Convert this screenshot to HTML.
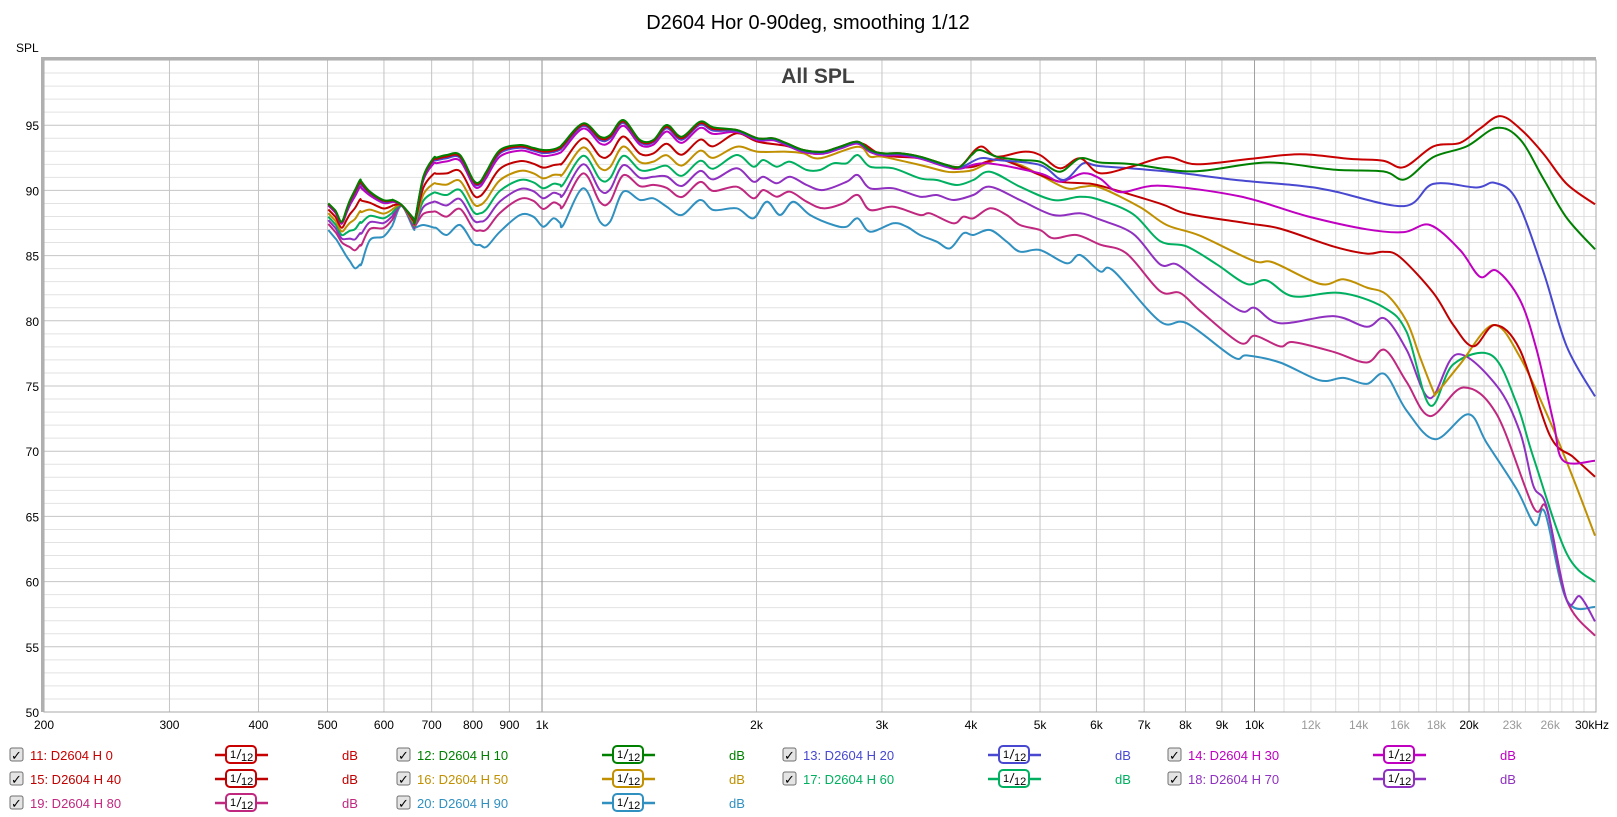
<!DOCTYPE html>
<html><head><meta charset="utf-8"><style>
html,body{margin:0;padding:0;background:#fff;}
body{width:1617px;height:817px;overflow:hidden;position:relative;font-family:"Liberation Sans",sans-serif;}
svg{position:absolute;left:0;top:0;}
</style></head><body>
<svg id="s" width="1617" height="817" xmlns="http://www.w3.org/2000/svg" font-family="Liberation Sans, sans-serif"></svg>
<script>
const S=document.getElementById('s');
let h='';
const L=44,R=1596,T=60,B=712;
const xf=f=>44+712.5*Math.log10(f/200);
const yd=d=>712-(d-50)*13.04;
// grid
for(let d=50;d<=100;d++){const y=yd(d);h+=`<line x1="${L}" x2="${R}" y1="${y}" y2="${y}" stroke="${d%5==0?'#c4c4c4':'#e2e2e2'}" stroke-width="1"/>`;}
let fs=[];for(let f=300;f<=900;f+=100)fs.push([f,'#c4c4c4']);fs.push([1000,'#909090']);
for(let f=2000;f<=9000;f+=1000)fs.push([f,'#c4c4c4']);fs.push([10000,'#a0a0a0']);
for(let f=11000;f<=29000;f+=1000)fs.push([f,f==20000?'#b0b0b0':'#dcdcdc']);
for(const[f,c] of fs){const x=xf(f);h+=`<line x1="${x}" x2="${x}" y1="${T}" y2="${B}" stroke="${c}"/>`;}
// border
h+=`<rect x="${L}" y="${T}" width="${R-L}" height="${B-T}" fill="none" stroke="#a8a8a8" stroke-width="1"/>`;
h+=`<line x1="${L-1.5}" y1="${T-2}" x2="${L-1.5}" y2="${B}" stroke="#b0b0b0" stroke-width="3"/>`;
h+=`<line x1="${L-3}" y1="${T-1.5}" x2="${R}" y2="${T-1.5}" stroke="#b0b0b0" stroke-width="3"/>`;
// labels
h+=`<text x="808" y="29" font-size="20" text-anchor="middle" fill="#000">D2604 Hor 0-90deg, smoothing 1/12</text>`;
h+=`<text x="818" y="83" font-size="21" font-weight="bold" text-anchor="middle" fill="#404040">All SPL</text>`;
h+=`<text x="16" y="52" font-size="12" fill="#000">SPL</text>`;
for(let d=50;d<=95;d+=5)h+=`<text x="39" y="${yd(d)+5}" font-size="12" text-anchor="end" fill="#000">${d}</text>`;
const xl=[[200,'200'],[300,'300'],[400,'400'],[500,'500'],[600,'600'],[700,'700'],[800,'800'],[900,'900'],[1000,'1k'],[2000,'2k'],[3000,'3k'],[4000,'4k'],[5000,'5k'],[6000,'6k'],[7000,'7k'],[8000,'8k'],[9000,'9k'],[10000,'10k'],[12000,'12k',1],[14000,'14k',1],[16000,'16k',1],[18000,'18k',1],[20000,'20k'],[23000,'23k',1],[26000,'26k',1]];
for(const[f,t,g] of xl)h+=`<text x="${xf(f)}" y="729" font-size="12" text-anchor="middle" fill="${g?'#999':'#000'}">${t}</text>`;
h+=`<text x="1575" y="729" font-size="12" fill="#000">30kHz</text>`;
// data
const z7=p=>[320+p[0]/3,100+p[1]/3], z8=p=>[720+p[0]/3,100+p[1]/3], z9=p=>[1100+p[0]/3,100+p[1]/2.8];
const T7=[[25,310],[45,330],[65,365],[90,300],[120,240],[150,275],[190,300],[220,300],[245,315],[285,360],[310,230],[340,175],[380,165],[420,165],[460,240],[480,245],[540,150],[600,135],[670,150],[700,148],[720,140],[790,70],[840,110],[870,105],[910,60],[960,120],[1000,120],[1040,75],[1085,110],[1140,65],[1180,82]].map(z7);
const B7=[[25,390],[50,420],[80,470],[105,505],[125,490],[150,420],[190,410],[215,380],[245,318],[280,385],[310,375],[350,385],[380,405],[420,375],[460,430],[500,440],[540,395],[600,345],[640,350],[670,380],[700,355],[730,375],[790,265],[840,365],[870,365],[910,275],[960,300],[1000,295],[1040,320],[1085,345],[1140,300],[1180,330]].map(z7);
function interp(a,x){if(x<=a[0][0])return a[0][1];for(let i=1;i<a.length;i++){if(x<=a[i][0]){const t=(x-a[i-1][0])/(a[i][0]-a[i-1][0]);return a[i-1][1]+t*(a[i][1]-a[i-1][1]);}}return a[a.length-1][1];}
const xs=[...new Set(T7.map(p=>p[0]).concat(B7.map(p=>p[0])))].sort((a,b)=>a-b);
function blend(w){return xs.map(x=>[x,interp(T7,x)*(1-w)+interp(B7,x)*w]);}
const T8=[[50,90],[113,115],[160,115],[200,130],[250,150],[310,155],[360,140],[413,125],[450,150],[487,160],[540,160],[600,170],[680,195],[720,200]];
const off=(a,o)=>a.map(p=>[p[0],p[1]+o]);
const C={
H0:{c:'#c80000',w:0.02,a8:T8.concat([[780,140],[830,170],[910,155],[960,165],[1020,205],[1080,175]]),
a9:[[0,205],[100,185],[200,160],[290,180],[450,165],[600,152],[750,165],[850,170],[912,188],[1000,130],[1080,120],[1140,80],[1200,45],[1260,80],[1330,150],[1400,235],[1485,292]]},
H10:{c:'#008000',w:0,a8:T8.concat([[755,165],[780,150],[830,170],[900,180],[960,185],[1020,215],[1080,175]]),
a9:[[0,175],[100,180],[280,200],[500,175],[700,195],[850,200],[915,222],[1000,160],[1100,130],[1190,78],[1260,110],[1330,220],[1400,330],[1485,418]]},
H20:{c:'#4848d0',w:0.04,a8:off(T8,3).concat([[780,175],[830,180],[960,195],[1030,240],[1090,190]]),
a9:[[0,185],[200,200],[420,225],[600,240],[700,255],[912,297],[1000,235],[1130,245],[1185,232],[1250,280],[1330,480],[1400,690],[1485,830]]},
H30:{c:'#c000c0',w:0.08,a8:off(T8,6).concat([[800,190],[960,220],[1020,245],[1090,220]]),
a9:[[0,220],[60,258],[180,240],[420,270],[620,325],[800,362],[912,370],[990,350],[1080,420],[1140,495],[1190,478],[1260,560],[1310,700],[1360,900],[1390,1010],[1485,1010]]},
H40:{c:'#c00000',w:0.23,a8:[[50,100],[113,125],[200,138],[250,155],[310,160],[413,128],[487,165],[600,175],[700,200],[760,200],[800,185],[850,180],[960,225],[1020,245],[1090,250]],
a9:[[0,240],[180,290],[260,318],[440,345],[540,360],[700,410],[800,430],[850,425],[900,440],[1000,540],[1060,630],[1120,690],[1185,630],[1260,700],[1350,940],[1420,1000],[1485,1055]]},
H50:{c:'#c09000',w:0.37,a8:[[50,140],[113,155],[200,155],[250,160],[300,175],[413,140],[450,170],[487,170],[600,195],[680,215],[720,215],[760,210],[830,180],[900,195],[960,225],[1040,265],[1090,260]],
a9:[[0,245],[120,300],[200,350],[300,380],[460,450],[520,455],[660,515],[730,502],[800,525],[860,545],[920,620],[960,720],[1000,815],[1010,820],[1080,740],[1180,630],[1260,720],[1350,900],[1420,1060],[1485,1220]]},
H60:{c:'#00b060',w:0.5,a8:[[50,165],[100,200],[130,180],[170,200],[210,185],[260,210],[300,210],[340,190],[380,190],[413,165],[450,200],[520,205],[600,235],[650,240],[710,255],[760,240],[810,215],[900,260],[1000,300],[1080,290]],
a9:[[0,280],[100,320],[180,395],[260,410],[350,460],[440,515],[500,505],[580,550],[720,540],[850,580],[920,650],[990,855],[1060,740],[1175,715],[1250,850],[1300,1000],[1400,1270],[1485,1350]]},
H70:{c:'#9030c0',w:0.63,a8:[[50,205],[100,245],[130,230],[170,250],[210,230],[260,255],[310,270],[380,245],[413,225],[450,265],[520,265],[600,290],[650,285],[700,300],[760,285],[810,260],[900,300],[1000,345],[1080,340]],
a9:[[0,335],[100,375],[180,460],[230,460],[300,510],[420,590],[465,582],[540,625],[700,605],[800,635],[855,612],[920,700],[990,835],[1070,712],[1190,800],[1260,930],[1300,1080],[1340,1140],[1400,1400],[1440,1390],[1485,1460]]},
H80:{c:'#c02880',w:0.77,a8:[[50,260],[100,295],[130,270],[170,290],[210,275],[260,305],[310,325],[370,310],[413,285],[450,330],[520,320],[600,345],[630,340],[700,370],[730,350],[760,355],[810,325],[860,345],[900,375],[960,390],[1000,415],[1070,405]],
a9:[[0,405],[80,430],[180,535],[240,540],[300,590],[420,680],[465,660],[540,690],[580,678],[700,705],[800,735],[855,700],[920,790],[990,885],[1090,805],[1190,880],[1300,1140],[1340,1145],[1400,1400],[1485,1500]]},
H90:{c:'#3090c0',w:1,a8:[[50,325],[100,355],[140,305],[180,345],[220,305],[270,345],[340,375],[380,380],[413,355],[450,395],[520,370],[560,380],[600,405],[650,425],[690,445],[730,400],[760,405],[810,390],[860,425],[900,455],[960,450],[1040,490],[1080,465]],
a9:[[0,480],[40,478],[180,620],[260,625],[400,720],[440,715],[540,735],[660,785],[730,778],[800,795],[855,768],[920,870],[1005,950],[1105,880],[1160,960],[1250,1090],[1305,1190],[1335,1155],[1400,1400],[1485,1420]]}
};
function path(p){let d=`M${p[0][0].toFixed(1)},${p[0][1].toFixed(1)}`;
for(let i=0;i<p.length-1;i++){const p0=p[Math.max(0,i-1)],p1=p[i],p2=p[i+1],p3=p[Math.min(p.length-1,i+2)];
const c1=[p1[0]+(p2[0]-p0[0])/6,p1[1]+(p2[1]-p0[1])/6],c2=[p2[0]-(p3[0]-p1[0])/6,p2[1]-(p3[1]-p1[1])/6];
d+=`C${c1[0].toFixed(1)},${c1[1].toFixed(1)} ${c2[0].toFixed(1)},${c2[1].toFixed(1)} ${p2[0].toFixed(1)},${p2[1].toFixed(1)}`;}return d;}
const order=['H90','H80','H70','H60','H50','H40','H30','H20','H0','H10'];
for(const k of order){const c=C[k];
let pts=blend(c.w).filter(p=>p[0]<=715);
pts=pts.concat(c.a8.filter(p=>p[0]>=50&&p[0]<=1100).map(z8).filter(p=>p[0]>pts[pts.length-1][0]+4));
pts=pts.concat(c.a9.map(z9).filter(p=>p[0]>pts[pts.length-1][0]+4));
h+=`<path d="${path(pts)}" fill="none" stroke="${c.c}" stroke-width="2"/>`;}
// legend
const leg=[[0,755,'11: D2604 H 0','#c80000'],[0,779,'15: D2604 H 40','#c00000'],[0,803,'19: D2604 H 80','#c02880'],
[1,755,'12: D2604 H 10','#008000'],[1,779,'16: D2604 H 50','#c09000'],[1,803,'20: D2604 H 90','#3090c0'],
[2,755,'13: D2604 H 20','#4848d0'],[2,779,'17: D2604 H 60','#00b060'],
[3,755,'14: D2604 H 30','#c000c0'],[3,779,'18: D2604 H 70','#9030c0']];
const cx=[10,397,783,1168];
for(const[ci,y,t,c] of leg){const x=cx[ci];
h+=`<rect x="${x}" y="${y-7}" width="13" height="13" rx="2" fill="#e4e4e4" stroke="#707070"/>`;
h+=`<text x="${x+6.5}" y="${y+5}" font-size="13" text-anchor="middle" fill="#000" font-family="DejaVu Sans, sans-serif">✓</text>`;
h+=`<text x="${x+20}" y="${y+5}" font-size="13" fill="${c}">${t}</text>`;
h+=`<line x1="${x+205}" x2="${x+258}" y1="${y}" y2="${y}" stroke="${c}" stroke-width="2.5"/>`;
h+=`<rect x="${x+216}" y="${y-9}" width="30" height="17" rx="4" fill="#fff" stroke="${c}" stroke-width="2"/>`;
h+=`<text x="${x+220}" y="${y+3}" font-size="11" fill="#000">1</text><line x1="${x+227}" y1="${y+4}" x2="${x+231}" y2="${y-6}" stroke="#000" stroke-width="1"/><text x="${x+231}" y="${y+6}" font-size="11" fill="#000">12</text>`;
h+=`<text x="${x+332}" y="${y+5}" font-size="13" fill="${c}">dB</text>`;}
S.innerHTML=h;
</script>
</body></html>
